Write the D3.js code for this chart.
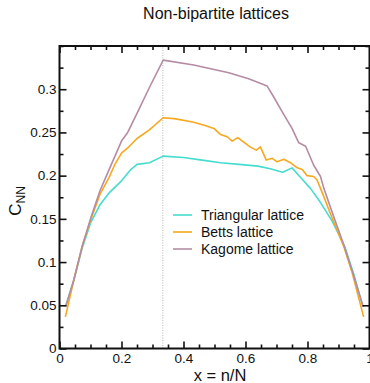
<!DOCTYPE html>
<html>
<head>
<meta charset="utf-8">
<script src="https://cdn.jsdelivr.net/npm/d3@7"></script>
<style>
  html, body { margin: 0; padding: 0; background: #fff; }
  svg text { font-family: "Liberation Sans", Arial, Helvetica, sans-serif; fill: #111; }
</style>
</head>
<body>
<svg id="chart" width="370" height="383"></svg>
<script>
// Nearest-neighbour concurrence C_NN versus filling x = n/N
const seriesNames = ["Triangular lattice", "Betts lattice", "Kagome lattice"];
const seriesColors = ["#46dccf", "#f7a81e", "#b48ca4"];

const triX = [0.02, 0.046, 0.073, 0.1, 0.13, 0.16, 0.2, 0.23, 0.25, 0.29, 0.3345, 0.4, 0.46, 0.52, 0.58, 0.64, 0.68, 0.72, 0.75, 0.78, 0.81, 0.84, 0.88, 0.92, 0.95, 0.978];
const triY = [0.049, 0.079, 0.116, 0.145, 0.166, 0.18, 0.194, 0.207, 0.213, 0.215, 0.2226, 0.221, 0.218, 0.215, 0.213, 0.211, 0.208, 0.204, 0.209, 0.197, 0.185, 0.17, 0.147, 0.118, 0.085, 0.049];

const bettsX = [0.019, 0.046, 0.073, 0.1, 0.13, 0.16, 0.18, 0.2, 0.22, 0.25, 0.29, 0.3345, 0.37, 0.43, 0.47, 0.498, 0.519, 0.541, 0.557, 0.575, 0.616, 0.635, 0.648, 0.667, 0.686, 0.702, 0.724, 0.745, 0.767, 0.783, 0.799, 0.82, 0.831, 0.85, 0.874, 0.917, 0.944, 0.981];
const bettsY = [0.0366, 0.079, 0.118, 0.148, 0.178, 0.198, 0.214, 0.226, 0.232, 0.243, 0.253, 0.267, 0.266, 0.262, 0.258, 0.2546, 0.2477, 0.245, 0.24, 0.244, 0.233, 0.2295, 0.2333, 0.218, 0.22, 0.216, 0.219, 0.215, 0.209, 0.207, 0.2, 0.199, 0.195, 0.178, 0.156, 0.118, 0.088, 0.0366];

const kagX = [0.02, 0.046, 0.073, 0.1, 0.13, 0.16, 0.2, 0.22, 0.25, 0.29, 0.3345, 0.433, 0.546, 0.61, 0.67, 0.691, 0.72, 0.75, 0.772, 0.794, 0.82, 0.842, 0.853, 0.885, 0.917, 0.944, 0.98];
const kagY = [0.049, 0.079, 0.118, 0.15, 0.182, 0.207, 0.24, 0.25, 0.272, 0.302, 0.3337, 0.328, 0.319, 0.312, 0.3036, 0.291, 0.273, 0.2546, 0.238, 0.234, 0.212, 0.199, 0.185, 0.152, 0.12, 0.09, 0.048];

const xMajor = [0, 0.2, 0.4, 0.6, 0.8, 1];
const xMajorLabels = ["0", "0.2", "0.4", "0.6", "0.8", "1"];
const yMajor = [0, 0.05, 0.1, 0.15, 0.2, 0.25, 0.3];
const yMajorLabels = ["0", "0.05", "0.1", "0.15", "0.2", "0.25", "0.3"];
const markerX = 1 / 3;

const svg = d3.select("#chart");
const plotLeft = 59.5, plotRight = 369.5, plotTop = 46, plotBottom = 348.5;

const x = d3.scaleLinear().domain([0, 1]).range([plotLeft, plotRight]);
const y = d3.scaleLinear().domain([0, 0.35]).range([plotBottom, plotTop]);

const xMinor = d3.range(0, 1.001, 0.05).filter(v => !xMajor.some(m => Math.abs(m - v) < 1e-6));
const yMinor = d3.range(0, 0.351, 0.025).filter(v => !yMajor.some(m => Math.abs(m - v) < 1e-6));

// dotted marker at x = 1/3
svg.append("line")
  .attr("x1", x(markerX)).attr("x2", x(markerX))
  .attr("y1", y(0)).attr("y2", y(0.35))
  .attr("stroke", "#b8b8b8").attr("stroke-width", 1)
  .attr("stroke-dasharray", "1,1.5");

// curves
const line = d3.line().x(d => x(d[0])).y(d => y(d[1]));
const series = [
  [triX, triY],
  [bettsX, bettsY],
  [kagX, kagY]
];
series.forEach((s, i) => {
  const pts = s[0].map((v, k) => [v, s[1][k]]);
  svg.append("path")
    .datum(pts)
    .attr("d", line)
    .attr("fill", "none")
    .attr("stroke", seriesColors[i])
    .attr("stroke-width", 1.6)
    .attr("stroke-linejoin", "round");
});

// axes: ticks point inward on all four sides
function styleAxis(g) {
  g.select(".domain").remove();
  g.selectAll(".tick line").attr("stroke", "#111").attr("stroke-width", 1.6);
}
const fmtX = (d) => xMajorLabels[xMajor.findIndex(m => Math.abs(m - d) < 1e-9)];
const fmtY = (d) => yMajorLabels[yMajor.findIndex(m => Math.abs(m - d) < 1e-9)];

svg.append("g").attr("transform", `translate(0,${plotBottom})`)
  .call(d3.axisBottom(x).tickValues(xMajor).tickSize(-7).tickPadding(5).tickFormat(fmtX))
  .call(styleAxis)
  .call(g => g.selectAll("text").attr("font-size", 13.5).attr("fill", "#111"));
svg.append("g").attr("transform", `translate(0,${plotBottom})`)
  .call(d3.axisBottom(x).tickValues(xMinor).tickSize(-4).tickFormat(""))
  .call(styleAxis);
svg.append("g").attr("transform", `translate(0,${plotTop})`)
  .call(d3.axisTop(x).tickValues(xMajor).tickSize(-7).tickFormat(""))
  .call(styleAxis);
svg.append("g").attr("transform", `translate(0,${plotTop})`)
  .call(d3.axisTop(x).tickValues(xMinor).tickSize(-4).tickFormat(""))
  .call(styleAxis);

svg.append("g").attr("transform", `translate(${plotLeft},0)`)
  .call(d3.axisLeft(y).tickValues(yMajor).tickSize(-7).tickPadding(3).tickFormat(fmtY))
  .call(styleAxis)
  .call(g => g.selectAll("text").attr("font-size", 13.5).attr("fill", "#111"));
svg.append("g").attr("transform", `translate(${plotLeft},0)`)
  .call(d3.axisLeft(y).tickValues(yMinor).tickSize(-4).tickFormat(""))
  .call(styleAxis);
svg.append("g").attr("transform", `translate(${plotRight},0)`)
  .call(d3.axisRight(y).tickValues(yMajor).tickSize(-7).tickFormat(""))
  .call(styleAxis);
svg.append("g").attr("transform", `translate(${plotRight},0)`)
  .call(d3.axisRight(y).tickValues(yMinor).tickSize(-4).tickFormat(""))
  .call(styleAxis);

// frame
svg.append("rect")
  .attr("x", plotLeft).attr("y", plotTop)
  .attr("width", plotRight - plotLeft).attr("height", plotBottom - plotTop)
  .attr("fill", "none").attr("stroke", "#111").attr("stroke-width", 2);

// title and axis labels
svg.append("text").attr("x", 216).attr("y", 19)
  .attr("text-anchor", "middle").attr("font-size", 16)
  .text("Non-bipartite lattices");

svg.append("text").attr("x", 220).attr("y", 381)
  .attr("text-anchor", "middle").attr("font-size", 16.5)
  .text("x = n/N");

const yl = svg.append("text")
  .attr("transform", "translate(21,201) rotate(-90)")
  .attr("text-anchor", "middle").attr("font-size", 17);
yl.append("tspan").text("C");
yl.append("tspan").attr("font-size", 12).attr("dy", 4).text("NN");

// legend
const legend = svg.append("g");
seriesNames.forEach((name, i) => {
  const ly = 215 + i * 17;
  legend.append("line")
    .attr("x1", 173).attr("x2", 192).attr("y1", ly).attr("y2", ly)
    .attr("stroke", seriesColors[i]).attr("stroke-width", 1.6);
  legend.append("text")
    .attr("x", 201).attr("y", ly + 5)
    .attr("font-size", 14)
    .text(name);
});
</script>
</body>
</html>
